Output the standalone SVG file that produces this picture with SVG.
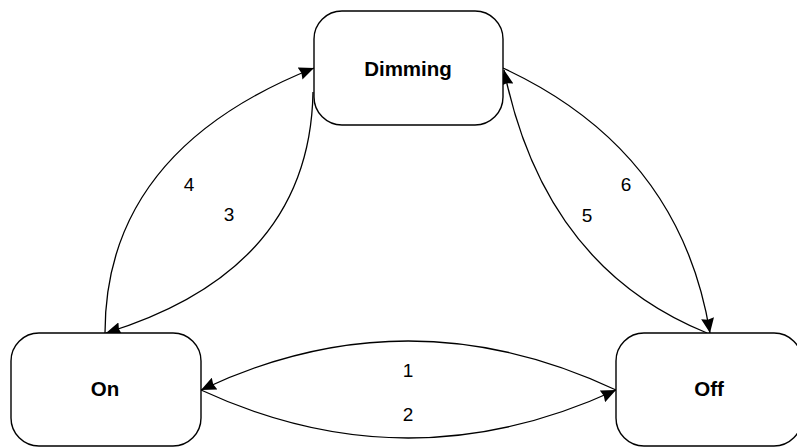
<svg xmlns="http://www.w3.org/2000/svg" width="797" height="447" viewBox="0 0 797 447">
  <style>
    .node rect { fill: #ffffff; stroke: #000000; stroke-width: 1.4; }
    .node text { font-family: "Liberation Sans", Arial, sans-serif; font-size: 20.5px; font-weight: bold; text-anchor: middle; fill: #000000; }
    .edge { fill: none; stroke: #000000; stroke-width: 1.3; marker-end: url(#arrow); }
    .label { font-family: "Liberation Sans", Arial, sans-serif; font-size: 19px; text-anchor: middle; fill: #000000; }
  </style>
  <defs>
    <marker id="arrow" markerUnits="userSpaceOnUse" markerWidth="16" markerHeight="13" refX="15" refY="6.5" orient="auto">
      <path d="M0,0 L15,6.5 L0,13 L1.5,6.5 Z" fill="#000000"/>
    </marker>
  </defs>
  <rect width="797" height="447" fill="#ffffff"/>
  <g id="connectors">
    <path id="e1" class="edge" d="M616,390 Q408,292 201,390"/>
    <path id="e2" class="edge" d="M201,390 Q408,486 616,390"/>
    <path id="e3" class="edge" d="M313,92 Q310,270 106,333"/>
    <path id="e4" class="edge" d="M105,333 Q105,151 314,68"/>
    <path id="e5" class="edge" d="M707,333 Q544,267 504,70"/>
    <path id="e6" class="edge" d="M503,68 Q680,150 710,333"/>
    <text class="label" x="408" y="377">1</text>
    <text class="label" x="408" y="421">2</text>
    <text class="label" x="229" y="221">3</text>
    <text class="label" x="189" y="191">4</text>
    <text class="label" x="587" y="222">5</text>
    <text class="label" x="626" y="191">6</text>
  </g>
  <g id="node-dimming" class="node">
    <rect x="314" y="11" width="189" height="114" rx="28" ry="28"/>
    <text x="408" y="76">Dimming</text>
  </g>
  <g id="node-on" class="node">
    <rect x="11" y="333" width="190" height="113" rx="28" ry="28"/>
    <text x="105" y="396">On</text>
  </g>
  <g id="node-off" class="node">
    <rect x="616" y="333" width="186" height="113" rx="28" ry="28"/>
    <text x="709" y="396">Off</text>
  </g>
</svg>
